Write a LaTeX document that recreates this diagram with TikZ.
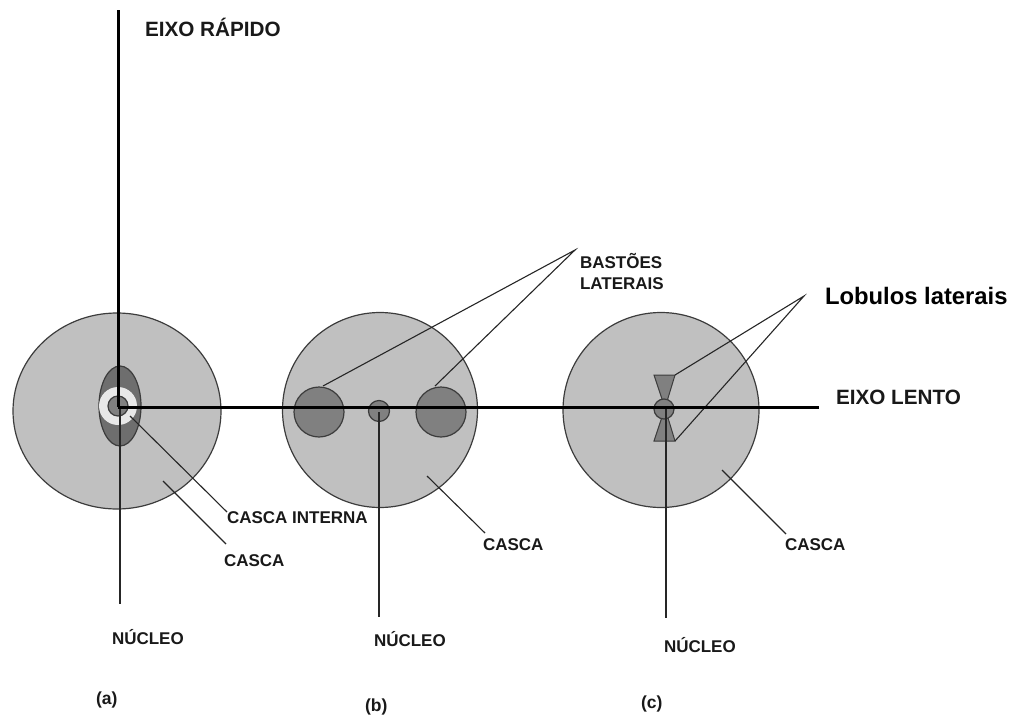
\documentclass[tikz,border=0pt]{standalone}
\usepackage{fontspec}
\setmainfont{Liberation Sans}
\usetikzlibrary{shapes.geometric}
\definecolor{shell}{HTML}{C0C0C0}
\definecolor{mid}{HTML}{808080}
\definecolor{dark}{HTML}{6E6E6E}
\definecolor{ring}{HTML}{E8E8E8}
\definecolor{edge}{HTML}{3C3C3C}
\tikzset{
  disc/.style={ellipse,inner sep=0pt,outer sep=0pt,draw=edge,line width=1.2pt},
  axisline/.style={draw=black,line width=3pt},
  pointer/.style={draw=black!85,line width=1.1pt},
  lab/.style={anchor=west,inner sep=0pt,outer sep=0pt,font=\fontsize{17}{18}\selectfont\bfseries,text=black!90},
  big/.style={lab,font=\fontsize{20.7}{22}\selectfont\bfseries},
  capt/.style={lab,font=\fontsize{17.5}{19}\selectfont\bfseries}
}
\begin{document}
\begin{tikzpicture}[x=1pt,y=-1pt]
\useasboundingbox (0,0) rectangle (1018,715);
% shells
\node[disc,fill=shell,minimum width=208pt,minimum height=196pt] (shellA) at (117,411) {};
\node[disc,fill=shell,minimum width=195pt,minimum height=195pt] (shellB) at (380,410) {};
\node[disc,fill=shell,minimum width=196pt,minimum height=195pt] (shellC) at (661,410) {};
% (a) interior
\node[disc,fill=dark,minimum width=42pt,minimum height=80pt] (innerA) at (120,406) {};
\node[ellipse,fill=ring,inner sep=0pt,minimum size=38pt] (ringA) at (118,406) {};
\node[disc,fill=mid,minimum size=20pt] (coreA) at (118,406) {};
% (b) interior
\node[disc,fill=mid,minimum size=50pt] (rodL) at (319,412) {};
\node[disc,fill=mid,minimum size=50pt] (rodR) at (441,412) {};
\node[disc,fill=mid,minimum size=21pt] (coreB) at (379,411) {};
% (c) interior
\coordinate (lobeTL) at (654,375);
\coordinate (lobeTR) at (675,375);
\coordinate (lobeBL) at (654,441);
\coordinate (lobeBR) at (675,441);
\coordinate (waist) at (665,408);
\draw[fill=mid,draw=edge,line width=1pt] (lobeTL) -- (lobeTR) -- (waist) -- (lobeBR) -- (lobeBL) -- (waist) -- cycle;
\node[disc,fill=mid,minimum size=20pt] (coreC) at (664,409) {};
% labels
\node[big] (fast) at (145,27) {EIXO RÁPIDO};
\node[big] (slow) at (836,397) {EIXO LENTO};
\node[lab] (rods) at (580,261) {BASTÕES};
\node[lab] (rods2) at (580,284) {LATERAIS};
\node[lab,font=\fontsize{23.8}{26}\selectfont\bfseries,text=black] (lobes) at (825,296) {Lobulos laterais};
\node[lab] (innerLab) at (227,518) {CASCA INTERNA};
\node[lab] (shellLabA) at (224,561) {CASCA};
\node[lab] (shellLabB) at (483,545) {CASCA};
\node[lab] (shellLabC) at (785,545) {CASCA};
\node[lab] (nucA) at (112,637) {NÚCLEO};
\node[lab] (nucB) at (374,639) {NÚCLEO};
\node[lab] (nucC) at (664,645) {NÚCLEO};
\node[capt] (capA) at (96,700) {(a)};
\node[capt] (capB) at (365,707) {(b)};
\node[capt] (capC) at (641,704) {(c)};
% connector ends
\coordinate (fastTop) at (118,10);
\coordinate (origin) at (118,407);
\coordinate (slowEnd) at (819,407);
\coordinate (nucEndA) at (120,604);
\coordinate (nucStartA) at (120,407);
\coordinate (nucStartB) at (379,412);
\coordinate (nucEndB) at (379,617);
\coordinate (nucStartC) at (666,407);
\coordinate (nucEndC) at (666,618);
\coordinate (tipRods) at (575,250);
\coordinate (tipLobes) at (804,296);
\coordinate (rodLtop) at (323,386);
\coordinate (rodRtop) at (435,386);
\coordinate (innerStart) at (130,416);
\coordinate (innerEnd) at (227,512);
\coordinate (shellStartA) at (163,481);
\coordinate (shellEndA) at (226,544);
\coordinate (shellStartB) at (427,476);
\coordinate (shellEndB) at (485,533);
\coordinate (shellStartC) at (722,470);
\coordinate (shellEndC) at (786,534);
% connectors
\draw[pointer] (nucStartA) -- (nucEndA);
\draw[pointer,line width=1.5pt] (nucStartB) -- (nucEndB);
\draw[pointer,line width=1.5pt] (nucStartC) -- (nucEndC);
\draw[pointer] (innerStart) -- (innerEnd);
\draw[pointer] (shellStartA) -- (shellEndA);
\draw[pointer] (shellStartB) -- (shellEndB);
\draw[pointer] (shellStartC) -- (shellEndC);
\draw[pointer] (rodLtop) -- (tipRods) -- (rodRtop);
\draw[pointer] (lobeTR) -- (tipLobes) -- (lobeBR);
\draw[axisline] (fastTop) -- (origin);
\draw[axisline] (origin) -- (slowEnd);
\end{tikzpicture}
\end{document}
